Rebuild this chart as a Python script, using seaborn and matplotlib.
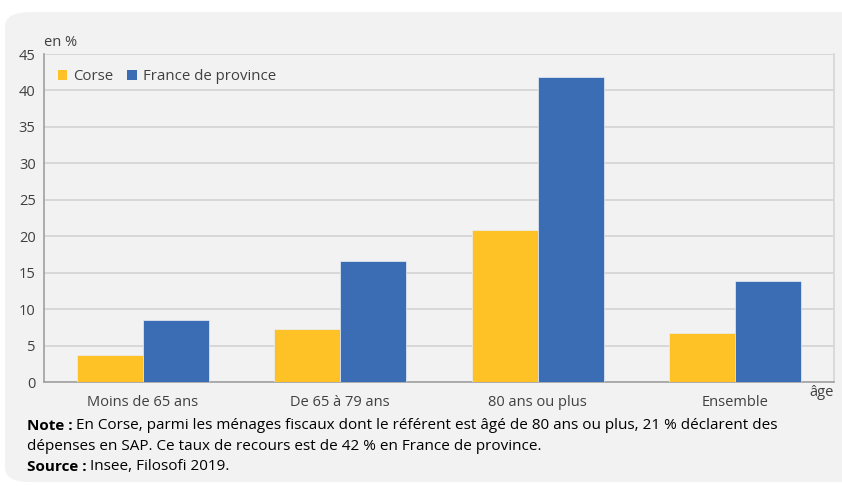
import pandas as pd
import numpy as np
import matplotlib
matplotlib.use("Agg")
import matplotlib.pyplot as plt
from matplotlib.patches import FancyBboxPatch, Rectangle
import seaborn as sns

# values (en %)
ages = ['Moins de 65 ans', 'De 65 à 79 ans', '80 ans ou plus', 'Ensemble']
corse = [3.7, 7.3, 20.9, 6.7]
province = [8.5, 16.6, 41.8, 13.9]
series = ['Corse', 'France de province']
colors = {'Corse': '#fec126', 'France de province': '#3b6db4'}

df = pd.DataFrame({
    'age': ages * 2,
    'taux': corse + province,
    'zone': ['Corse'] * 4 + ['France de province'] * 4,
})

sns.set_style('white')
plt.rcParams['font.family'] = ['Open Sans', 'DejaVu Sans']

bg = '#f2f2f2'
txt = '#404040'

fig = plt.figure(figsize=(8.42, 4.86), dpi=100)
fig.patch.set_facecolor('white')
panel = FancyBboxPatch((5 / 842, 0.008), 1.2, 0.967, boxstyle='round,pad=0,rounding_size=0.03',
                       transform=fig.transFigure, facecolor=bg, edgecolor='none', zorder=-5)
fig.patches.append(panel)

ax = fig.add_axes([44 / 842, 1 - 382 / 486, 790 / 842, 328 / 486])
ax.set_facecolor(bg)

sns.barplot(data=df, x='age', y='taux', hue='zone', hue_order=series, order=ages,
            palette=colors, width=0.67, saturation=1, edgecolor='#e8eef7', linewidth=0.5,
            ax=ax, zorder=3)

ax.set_ylim(0, 45)
ax.set_xlim(-0.5, 3.5)
ax.set_yticks(np.arange(0, 46, 5))
ax.yaxis.grid(True, color='#d6d6d6', linewidth=1.3, zorder=0)
ax.set_axisbelow(True)
ax.set_xlabel('')
ax.set_ylabel('')
ax.tick_params(axis='both', length=0, labelsize=10.5, colors=txt)
ax.tick_params(axis='x', pad=9)
ax.tick_params(axis='y', pad=6)

ax.spines['top'].set_visible(False)
ax.spines['left'].set_color('#a0a0a0')
ax.spines['left'].set_linewidth(1.2)
ax.spines['bottom'].set_color('#a0a0a0')
ax.spines['bottom'].set_linewidth(1.2)
ax.spines['right'].set_color('#d6d6d6')
ax.spines['right'].set_linewidth(1.2)

handles = [Rectangle((0, 0), 1, 1, facecolor=colors[s], edgecolor='none') for s in series]
ax.legend(handles, series, loc='upper left', bbox_to_anchor=(0.0, 0.995), ncol=2, frameon=False,
          fontsize=10.8, handlelength=0.65, handleheight=0.65, handletextpad=0.4, columnspacing=0.9,
          labelcolor=txt)

fig.text(44 / 842, 1 - 43 / 486, 'en %', fontsize=10.5, color=txt, va='center', ha='left')
fig.text(822 / 842, 1 - 392 / 486, 'âge', fontsize=10.5, color=txt, va='center', ha='center')

# note and source: bold head, then the rest placed right after it
note = fig.text(27 / 842, 1 - 426 / 486, 'Note :', fontsize=11, color='black', va='center',
                fontweight='bold')
ax.annotate('En Corse, parmi les ménages fiscaux dont le référent est âgé de 80 ans ou plus, 21 % déclarent des',
            xy=(1, 0), xycoords=note, xytext=(2.5, 0), textcoords='offset points',
            fontsize=11, color='black', va='bottom', annotation_clip=False)
fig.text(27 / 842, 1 - 446 / 486, 'dépenses en SAP. Ce taux de recours est de 42 % en France de province.',
         fontsize=11, color='black', va='center')
src = fig.text(27 / 842, 1 - 467 / 486, 'Source :', fontsize=11, color='black', va='center',
               fontweight='bold')
ax.annotate('Insee, Filosofi 2019.', xy=(1, 0), xycoords=src, xytext=(2.5, 0), textcoords='offset points',
            fontsize=11, color='black', va='bottom', annotation_clip=False)

fig.savefig('out.png', dpi=100, facecolor=fig.get_facecolor())
